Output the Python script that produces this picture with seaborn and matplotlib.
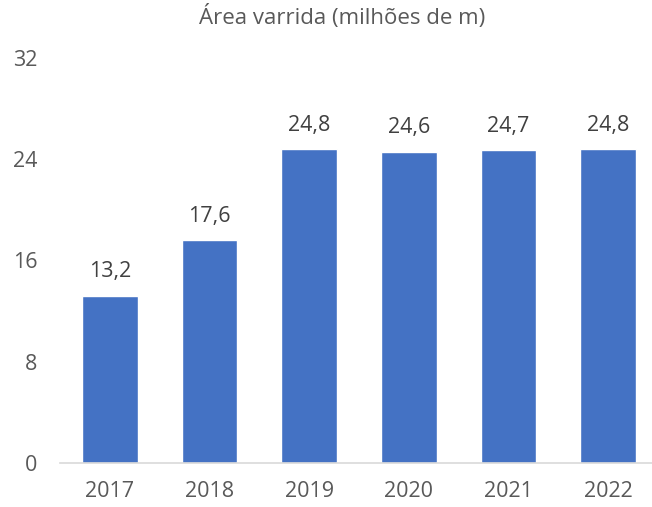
import pandas as pd
import matplotlib.pyplot as plt
import seaborn as sns

# dados do gráfico
anos = ['2017', '2018', '2019', '2020', '2021', '2022']
area = [13.2, 17.6, 24.8, 24.6, 24.7, 24.8]
rotulos = ['13,2', '17,6', '24,8', '24,6', '24,7', '24,8']
yticks = [0, 8, 16, 24, 32]

df = pd.DataFrame({'ano': anos, 'area': area})

sns.set_style('white')
plt.rcParams['font.family'] = ['Open Sans', 'DejaVu Sans']

fig = plt.figure(figsize=(6.52, 5.07), dpi=100)
ax = fig.add_axes([60 / 652, 1 - 463 / 507, 598 / 652, 405 / 507])

sns.barplot(data=df, x='ano', y='area', color='#4472C4', saturation=1,
            width=0.56, ax=ax)

# rótulos de dados
for i, (v, r) in enumerate(zip(area, rotulos)):
    ax.text(i, v + 1.9, r, ha='center', va='center',
            fontsize=15.5, color='#404040')

ax.set_ylim(0, 32)
ax.set_xlim(-0.5, 5.5)
ax.set_yticks(yticks)
ax.set_yticklabels([str(t) for t in yticks])
ax.set_xlabel('')
ax.set_ylabel('')

for s in ['top', 'right', 'left']:
    ax.spines[s].set_visible(False)
ax.spines['bottom'].set_color('#D9D9D9')
ax.spines['bottom'].set_linewidth(1.2)

ax.tick_params(axis='both', length=0, labelsize=15.5, labelcolor='#595959')
ax.tick_params(axis='y', pad=16.5)
ax.tick_params(axis='x', pad=13)

fig.text(342 / 652, 1 - 17 / 507, 'Área varrida (milhões de m)',
         ha='center', va='center', fontsize=16, color='#595959')

fig.savefig('out.png', dpi=100)
